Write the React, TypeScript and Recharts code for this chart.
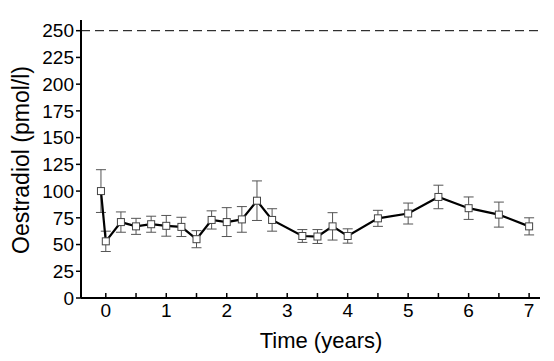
import React from "react";
import {
  LineChart,
  Line,
  XAxis,
  YAxis,
  ErrorBar,
  ReferenceLine,
  Label,
} from "recharts";

const FONT = '"Liberation Sans", Arial, Helvetica, sans-serif';

// time in years (first point is the pre-treatment baseline)
const years = [
  -0.08, 0, 0.25, 0.5, 0.75, 1, 1.25, 1.5, 1.75, 2, 2.25, 2.5, 2.75, 3.25, 3.5,
  3.75, 4, 4.5, 5, 5.5, 6, 6.5, 7,
];
const oestradiol = [
  100, 53, 71, 67, 69, 67.5, 66.5, 55, 73, 71, 73.5, 91, 73, 58, 57.5, 67, 58,
  74.5, 79, 94.5, 84, 78, 67,
];
const sem = [
  20, 9.5, 9.5, 7.5, 7.5, 9.7, 9, 8, 8.5, 13.5, 12, 18.5, 10.5, 6, 6.5, 12.8,
  6.7, 7.5, 9.8, 11, 10.5, 11.7, 8,
];
const xTicks = [0, 0.5, 1, 1.5, 2, 2.5, 3, 3.5, 4, 4.5, 5, 5.5, 6, 6.5, 7];
const yTicks = [0, 25, 50, 75, 100, 125, 150, 175, 200, 225, 250];
const upperLimit = 250;

const data = years.map((t, i) => ({ t, value: oestradiol[i], err: sem[i] }));

function XTick({ x, y, payload }: any) {
  const major = Number.isInteger(payload.value);
  return (
    <g>
      <line x1={x} x2={x} y1={y} y2={y - 5} stroke="#000" strokeWidth={1.5} />
      {major && (
        <text
          x={x}
          y={y + 19}
          textAnchor="middle"
          fontSize={19}
          fontFamily={FONT}
          fill="#000"
        >
          {payload.value}
        </text>
      )}
    </g>
  );
}

function SquareDot({ cx, cy }: any) {
  if (cx == null || cy == null) return null;
  return (
    <rect
      x={cx - 3.5}
      y={cy - 3.5}
      width={7}
      height={7}
      fill="#fff"
      stroke="#444"
      strokeWidth={1}
    />
  );
}

export default function App() {
  return (
    <div style={{ width: 554, height: 361 }}>
      <style>{"body{margin:0}"}</style>
      <LineChart
        width={554}
        height={361}
        data={data}
        margin={{ top: 20, right: 14, bottom: 0, left: 0 }}
      >
        <XAxis
          dataKey="t"
          type="number"
          domain={[-0.41, 7.18]}
          ticks={xTicks}
          interval={0}
          height={63}
          tickSize={0}
          tickMargin={0}
          tickLine={false}
          tick={<XTick />}
          axisLine={{ stroke: "#000", strokeWidth: 2 }}
        >
          <Label
            content={() => (
              <text
                x={321}
                y={348}
                textAnchor="middle"
                fontSize={22}
                fontFamily={FONT}
                fill="#000"
              >
                Time (years)
              </text>
            )}
          />
        </XAxis>
        <YAxis
          type="number"
          domain={[0, 260]}
          ticks={yTicks}
          interval={0}
          width={81}
          tickSize={5}
          tickMargin={2}
          tick={{ fontSize: 19, fontFamily: FONT, fill: "#000" }}
          tickLine={{ stroke: "#000", strokeWidth: 1.5 }}
          axisLine={{ stroke: "#000", strokeWidth: 2 }}
        >
          <Label
            content={() => (
              <text
                transform="translate(21,160) rotate(-90)"
                textAnchor="middle"
                dominantBaseline="central"
                fontSize={23}
                fontFamily={FONT}
                fill="#000"
              >
                Oestradiol (pmol/l)
              </text>
            )}
          />
        </YAxis>
        <ReferenceLine
          y={upperLimit}
          stroke="#000"
          strokeWidth={1}
          strokeDasharray="9 5"
        />
        <Line
          type="linear"
          dataKey="value"
          stroke="#000"
          strokeWidth={2.2}
          dot={<SquareDot />}
          activeDot={false}
          isAnimationActive={false}
        >
          <ErrorBar
            dataKey="err"
            direction="y"
            width={5}
            stroke="#555"
            strokeWidth={1}
            isAnimationActive={false}
          />
        </Line>
      </LineChart>
    </div>
  );
}
